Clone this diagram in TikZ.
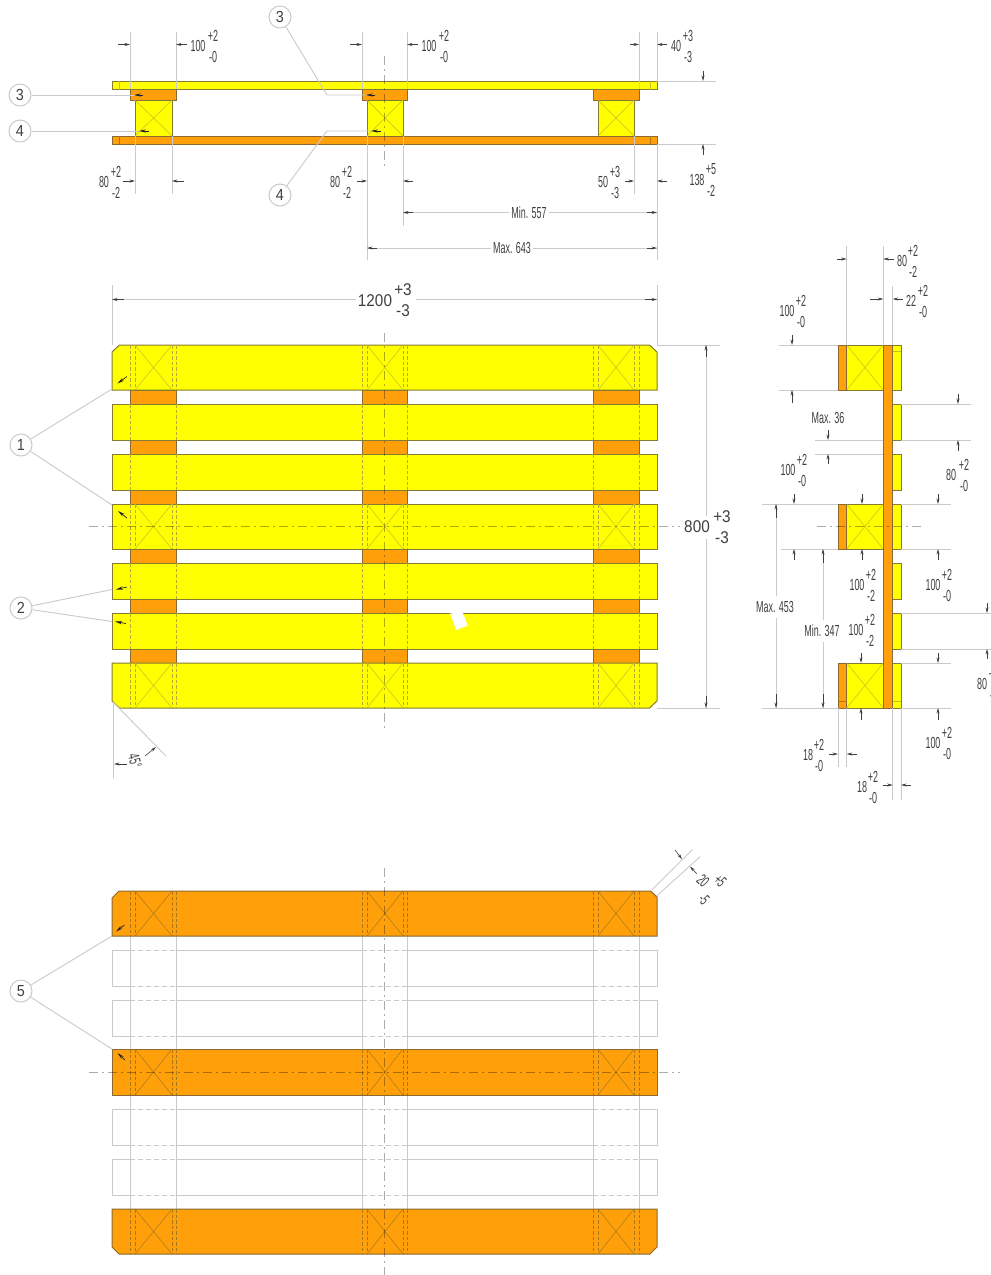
\documentclass[tikz,border=0pt]{standalone}
\usepackage{fontspec}
\setmainfont[FakeStretch=0.56]{Liberation Sans}
\newfontfamily\widefont[FakeStretch=0.9]{Liberation Sans}
\usetikzlibrary{arrows.meta}
\definecolor{pyel}{HTML}{FFFF00}
\definecolor{pora}{HTML}{FFA00A}
\definecolor{edgeY}{HTML}{857A35}
\definecolor{edgeO}{HTML}{8A6A30}
\definecolor{hid}{HTML}{B8AC30}
\definecolor{hidO}{HTML}{A87818}
\definecolor{gr}{HTML}{CACACA}
\definecolor{txt}{HTML}{404040}
\tikzset{
  yel/.style={fill=pyel,draw=edgeY,line width=1pt},
  ora/.style={fill=pora,draw=edgeO,line width=1pt},
  hidden/.style={draw=hid,line width=.6pt,dash pattern=on 3.5pt off 2pt},
  hiddenO/.style={draw=hidO,line width=.6pt,dash pattern=on 3.5pt off 2pt},
  crossY/.style={draw=hid!80!pyel,line width=.5pt},
  crossO/.style={draw=hidO,line width=.5pt},
  ext/.style={draw=gr,line width=.9pt},
  ghost/.style={draw=gr,line width=.9pt},
  ghostd/.style={draw=gr,line width=.9pt,dash pattern=on 5pt off 3pt},
  centre/.style={draw=black,draw opacity=.33,line width=.8pt,dash pattern=on 9pt off 4pt on 2pt off 4pt},
  dimarr/.style={draw=black!75,line width=.6pt,-{Stealth[length=5.5pt,width=3pt]}},
  dimboth/.style={draw=gr,line width=.8pt},
  ldrarr/.style={draw=black!85,line width=.7pt,-{Stealth[length=7pt,width=3.2pt]}},
  balloon/.style={circle,draw=gr,line width=1pt,fill=white,minimum size=22pt,inner sep=0pt,text=txt,font=\widefont\fontsize{16}{16}\selectfont},
  lbl/.style={inner sep=0pt,text=txt,font=\fontsize{16}{16}\selectfont},
  biglbl/.style={inner sep=0pt,text=txt,font=\widefont\fontsize{17}{17}\selectfont},
}
% tolerance label: value centre, offset of the tolerances, tolerances
\newcommand{\tol}[6]{%
  \node[lbl] at (#1,#2) {#3};
  \node[lbl] at (#1+#4,#2-10.5) {#5};
  \node[lbl] at (#1+#4,#2+10.5) {#6};}
\begin{document}
\begin{tikzpicture}[x=1pt,y=-1pt]
\path[use as bounding box,fill=white] (0,0) rectangle (991,1275);

% ===== TOP ELEVATION =====
\foreach \a/\b/\c/\d in {130/176/135/172, 362/407/367/403, 593/639/598/634}{
  \path[ora] (\a,89.5) rectangle (\b,100);
  \path[yel] (\c,100) rectangle (\d,136);
  \draw[crossY] (\c,100) -- (\d,136) (\d,100) -- (\c,136);
}
\path[yel] (112,81) rectangle (657,89.5);
\path[ora] (112,136) rectangle (657,144);
\draw[crossY] (119,81) -- (119,89.5) (650,81) -- (650,89.5);
\draw[crossO] (119,136) -- (119,144) (650,136) -- (650,144);
\draw[centre] (384.5,56) -- (384.5,168);

\draw[ext] (130,32) -- (130,89) (176,32) -- (176,89)
           (362,32) -- (362,89) (407,32) -- (407,89)
           (639,32) -- (639,89) (657,32) -- (657,81)
           (657,81) -- (716,81) (657,144) -- (716,144)
           (135,136) -- (135,194) (172,136) -- (172,194)
           (367,136) -- (367,260) (403,136) -- (403,226)
           (634,136) -- (634,194) (657,144) -- (657,260);
\foreach \p/\q in {118/130,187/176,350/362,418/407,630/639,667/657}{\draw[dimarr] (\p,44.5) -- (\q,44.5);}
\foreach \p/\q in {123/135,184/172,357/367,413/403,625/634,667/657}{\draw[dimarr] (\p,181) -- (\q,181);}
\draw[dimarr] (703,71) -- (703,81);
\draw[dimarr] (703,155) -- (703,144);
\tol{198}{46}{100}{15}{+2}{-0}
\tol{429}{46}{100}{15}{+2}{-0}
\tol{676}{46}{40}{12}{+3}{-3}
\tol{104}{182}{80}{12}{+2}{-2}
\tol{335}{182}{80}{12}{+2}{-2}
\tol{603}{182}{50}{12}{+3}{-3}
\tol{697}{180}{138}{14}{+5}{-2}

\node[lbl,outer sep=2pt] (minA) at (529,212.5) {Min. 557};
\node[lbl,outer sep=2pt] (maxA) at (512,248) {Max. 643};
\coordinate (minL) at (403,212.5);
\coordinate (minR) at (657,212.5);
\coordinate (maxL) at (367,248);
\coordinate (maxR) at (657,248);
\draw[dimboth] (minL) -- (minA) (minA) -- (minR);
\draw[dimboth] (maxL) -- (maxA) (maxA) -- (maxR);
\foreach \p/\q/\y in {413/403/212.5,647/657/212.5,377/367/248,647/657/248}{\draw[dimarr] (\p,\y) -- (\q,\y);}

\node[balloon] (b3a) at (20,95) {3};
\node[balloon] (b4a) at (20,131) {4};
\node[balloon] (b3b) at (280,17) {3};
\node[balloon] (b4b) at (280,195) {4};
\coordinate (c3a) at (135,95);
\coordinate (c4a) at (139,131);
\coordinate (k3b) at (327,95);
\coordinate (e3b) at (367,95);
\coordinate (k4b) at (327,131);
\coordinate (e4b) at (371,131);
\draw[ext] (b3a) -- (c3a);
\draw[ext] (b4a) -- (c4a);
\draw[ext] (b3b) -- (k3b) -- (e3b);
\draw[ext] (b4b) -- (k4b) -- (e4b);
\draw[ldrarr] (143,95) -- (134,95);
\draw[ldrarr] (149,131) -- (139,131);
\draw[ldrarr] (375,95) -- (366,95);
\draw[ldrarr] (381,131) -- (371,131);

% ===== PLAN FROM ABOVE =====
\foreach \a/\b in {130/176, 362/407, 593/639}{
  \path[ora] (\a,390) rectangle (\b,663);
}
\path[yel] (112,390) -- (112,352) -- (119.5,345) -- (649.5,345) -- (657,352) -- (657,390) -- cycle;
\foreach \t/\u in {404/440,454/490,504/549,563/599,613/649}{\path[yel] (112,\t) rectangle (657,\u);}
\path[yel] (112,663) -- (657,663) -- (657,701) -- (649.5,708) -- (119.5,708) -- (112,701) -- cycle;
\foreach \a/\c/\d/\b in {130/135/172/176, 362/367/403/407, 593/598/634/639}{
  \foreach \t/\u in {345/390,404/440,454/490,504/549,563/599,613/649,663/708}{
    \draw[hidden] (\a,\t) -- (\a,\u) (\b,\t) -- (\b,\u);
  }
  \foreach \t/\u in {345/390,504/549,663/708}{
    \draw[hidden] (\c,\t) -- (\c,\u) (\d,\t) -- (\d,\u);
    \draw[crossY] (\c,\t) -- (\d,\u) (\d,\t) -- (\c,\u);
  }
}
\path[fill=white] (450,613.3) -- (463,613) -- (467.7,625.7) -- (456,630) -- cycle;
\draw[centre] (89,526) -- (680,526);
\draw[centre] (384.5,333) -- (384.5,730);

\draw[ext] (112,285) -- (112,345) (657,285) -- (657,345)
           (657,345) -- (720,345) (657,708) -- (720,708);
\draw[dimboth] (112,299.5) -- (356,299.5) (416,299.5) -- (657,299.5);
\node[biglbl] at (375,301) {1200};
\node[biglbl] at (403,290) {+3};
\node[biglbl] at (403,311) {-3};
\draw[dimarr] (124,299.5) -- (112,299.5);
\draw[dimarr] (645,299.5) -- (657,299.5);
\node[biglbl] at (697,527) {800};
\node[biglbl] at (722,517) {+3};
\node[biglbl] at (722,538) {-3};
\draw[dimboth] (706,345) -- (706,516) (706,539) -- (706,708);
\draw[dimarr] (706,357) -- (706,345);
\draw[dimarr] (706,696) -- (706,708);

\node[balloon] (b1) at (21,445) {1};
\node[balloon] (b2) at (21,608) {2};
\coordinate (e1a) at (112,389);
\coordinate (e1b) at (112,505);
\coordinate (e2a) at (112,589.5);
\coordinate (e2b) at (112,621.5);
\draw[ext] (b1) -- (e1a);
\draw[ext] (b1) -- (e1b);
\draw[ext] (b2) -- (e2a);
\draw[ext] (b2) -- (e2b);
\draw[ldrarr] (127,376.5) -- (117.5,383.5);
\draw[ldrarr] (127,518) -- (118,511);
\draw[ldrarr] (127,587) -- (116,589.5);
\draw[ldrarr] (126,623.5) -- (115,621.5);

% 45 degree chamfer
\draw[ext] (113,702) -- (166,756) (113.5,702) -- (113.5,778);
\draw[dimarr] (127,764) -- (114,764);
\draw[dimarr] (145,756) -- (156,747);
\node[lbl,rotate=-75] at (135,761) {45°};

% ===== SIDE VIEW =====
\path[yel] (892.7,345) rectangle (901,390);
\foreach \t/\u in {404/440,454/490,504/549,563/599,613/649,663/708}{\path[yel] (892.7,\t) rectangle (901,\u);}
\foreach \t/\u in {345/390,504/549,663/708}{
  \path[yel] (846.7,\t) rectangle (883.3,\u);
  \draw[crossY] (846.7,\t) -- (883.3,\u) (883.3,\t) -- (846.7,\u);
  \path[ora] (838,\t) rectangle (846.7,\u);
}
\path[ora] (883.3,345) rectangle (892.7,708);
\draw[crossY] (892.7,351) -- (901,351) (892.7,701) -- (901,701);
\draw[crossO] (838,701) -- (846.7,701);
\draw[centre] (817,526) -- (925,526);

\draw[ext] (846.7,246) -- (846.7,345) (883.3,246) -- (883.3,345) (892.7,286) -- (892.7,345)
  (779,345) -- (838,345) (779,390) -- (838,390)
  (815,440) -- (883,440) (815,454) -- (883,454)
  (901,404) -- (971,404) (901,440) -- (971,440)
  (762,504) -- (838,504) (781,549) -- (838,549)
  (901,504) -- (951,504) (901,549) -- (951,549)
  (901,663) -- (951,663) (901,708) -- (951,708)
  (762,708) -- (838,708)
  (901,613) -- (991,613) (901,649) -- (991,649)
  (838,708) -- (838,767) (846.7,708) -- (846.7,767)
  (892.7,708) -- (892.7,800) (901,708) -- (901,800);
\foreach \p/\q/\y in {837/846.7/259,893.5/883.3/259,870/883.3/299,903/892.7/299,
   829/838/754,857/846.7/754,883/892.7/785,911/901/785}{\draw[dimarr] (\p,\y) -- (\q,\y);}
\foreach \x/\p/\q in {792/335/345,792/403/390,828/430/440,828/464/454,958/394/404,958/451/440,
   794/494/504,794/560/549,862/494/504,862/560/549,938/494/504,938/560/549,
   861/653/663,861/720/708,938/653/663,938/720/708,987/603/613,987/659/649}{\draw[dimarr] (\x,\p) -- (\x,\q);}

\node[lbl] (m36) at (828,418) {Max. 36};
\node[lbl] (m453) at (775,607) {Max. 453};
\node[lbl] (m347) at (822,631) {Min. 347};
\draw[dimboth] (776,504) -- (776,596) (776,618) -- (776,708);
\draw[dimboth] (823,549) -- (823,620) (823,642) -- (823,708);
\foreach \x in {776,823}{\draw[dimarr] (\x,694) -- (\x,708);}
\draw[dimarr] (776,518) -- (776,504);
\draw[dimarr] (823,563) -- (823,549);

\tol{902}{261}{80}{11}{+2}{-2}
\tol{911}{301}{22}{12}{+2}{-0}
\tol{787}{311}{100}{14}{+2}{-0}
\tol{951}{475}{80}{13}{+2}{-0}
\tol{788}{470}{100}{14}{+2}{-0}
\tol{933}{585}{100}{14}{+2}{-0}
\tol{857}{585}{100}{14}{+2}{-2}
\tol{856}{630}{100}{14}{+2}{-2}
\tol{933}{743}{100}{14}{+2}{-0}
\tol{808}{755}{18}{11}{+2}{-0}
\tol{862}{787}{18}{11}{+2}{-0}
\tol{982}{684}{80}{12}{+2}{-0}

% ===== PLAN FROM BELOW =====
\foreach \t/\u in {950/986,1000/1036,1109/1145,1159/1195}{
  \draw[ghost] (176,\t) -- (362,\t) (407,\t) -- (593,\t) (639,\t) -- (657,\t) -- (657,\u) -- (639,\u)
               (593,\u) -- (407,\u) (362,\u) -- (176,\u) (130,\u) -- (112,\u) -- (112,\t) -- (130,\t);
  \foreach \a/\b in {130/176,362/407,593/639}{\draw[ghostd] (\a,\t) -- (\b,\t) (\a,\u) -- (\b,\u);}
}
\foreach \x in {130,176,362,407,593,639}{\draw[ghost] (\x,936) -- (\x,1049) (\x,1095) -- (\x,1209);}
\path[ora] (112,936) -- (112,898) -- (119,891) -- (650.5,891) -- (657,897) -- (657,936) -- cycle;
\path[ora] (112,1049) rectangle (657,1095);
\path[ora] (112,1209) -- (657,1209) -- (657,1247) -- (650,1254) -- (119,1254) -- (112,1247) -- cycle;
\foreach \a/\c/\d/\b in {130/135/172/176, 362/367/403/407, 593/598/634/639}{
  \foreach \t/\u in {891/936,1049/1095,1209/1254}{
    \draw[hiddenO] (\a,\t) -- (\a,\u) (\b,\t) -- (\b,\u) (\c,\t) -- (\c,\u) (\d,\t) -- (\d,\u);
    \draw[crossO] (\c,\t) -- (\d,\u) (\d,\t) -- (\c,\u);
  }
}
\draw[centre] (89,1072) -- (680,1072);
\draw[centre] (384.5,868) -- (384.5,1275);

\node[balloon] (b5) at (21,991) {5};
\coordinate (e5a) at (112,936);
\coordinate (e5b) at (112,1049);
\draw[ext] (b5) -- (e5a);
\draw[ext] (b5) -- (e5b);
\draw[ldrarr] (124.5,925) -- (116,931.5);
\draw[ldrarr] (125,1060) -- (117.5,1053);

% corner chamfer dimension
\draw[ext] (651.7,890) -- (692.7,849.3) (656.7,896) -- (700,856.7);
\draw[dimarr] (675,850) -- (682,859);
\draw[dimarr] (697,874) -- (690,866.5);
\node[lbl,rotate=-45] at (703,881) {20};
\node[lbl,rotate=-45] at (720,881) {+5};
\node[lbl,rotate=-45] at (704,899) {-5};
\end{tikzpicture}
\end{document}
